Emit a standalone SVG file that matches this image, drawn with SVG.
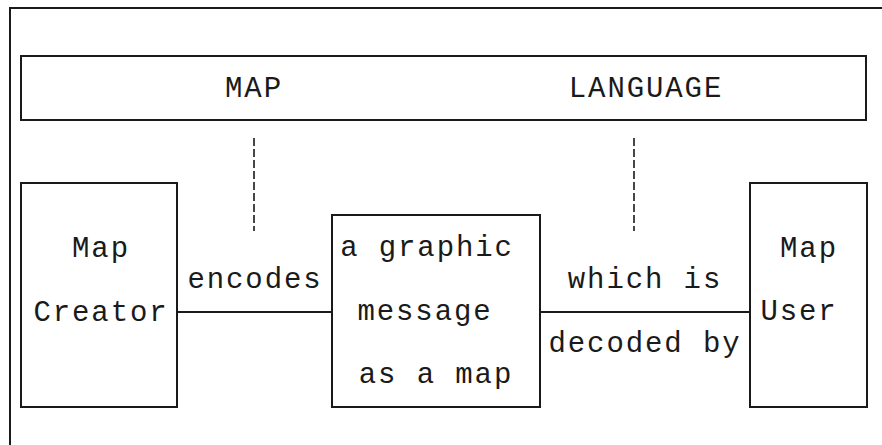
<svg xmlns="http://www.w3.org/2000/svg" width="882" height="445" viewBox="0 0 882 445">
<style>
.box{fill:none;stroke:#1a1a1a;stroke-width:2}
.ln{stroke:#1a1a1a;stroke-width:2;fill:none}
.dash{stroke:#1a1a1a;stroke-width:1.6;stroke-dasharray:8,3;fill:none}
text{font-family:"Liberation Mono","Courier New",monospace;font-size:29px;letter-spacing:1.9px;fill:#1a1a1a;text-anchor:middle}
</style>
<rect x="0" y="0" width="882" height="445" fill="#ffffff"/>
<rect class="box" x="10" y="8" width="900" height="500"/>
<g id="language">
<rect class="box" x="21" y="56" width="845" height="64"/>
<text x="254" y="97">MAP</text>
<text x="646" y="97">LANGUAGE</text>
</g>
<g id="creator">
<rect class="box" x="21" y="183" width="156" height="224"/>
<text x="101" y="257">Map</text>
<text x="101" y="321">Creator</text>
</g>
<g id="message">
<rect class="box" x="332" y="215" width="208" height="192"/>
<text x="427" y="256">a graphic</text>
<text x="425" y="320">message</text>
<text x="436" y="383">as a map</text>
</g>
<g id="user">
<rect class="box" x="750" y="183" width="117" height="224"/>
<text x="809" y="257">Map</text>
<text x="799" y="320">User</text>
</g>
<g id="connectors">
<line class="ln" x1="177" y1="312" x2="332" y2="312"/>
<line class="ln" x1="540" y1="312" x2="750" y2="312"/>
<line class="dash" x1="254" y1="138" x2="254" y2="231"/>
<line class="dash" x1="634" y1="138" x2="634" y2="231"/>
<text x="255" y="288">encodes</text>
<text x="645" y="288">which is</text>
<text x="645" y="352">decoded by</text>
</g>
</svg>
